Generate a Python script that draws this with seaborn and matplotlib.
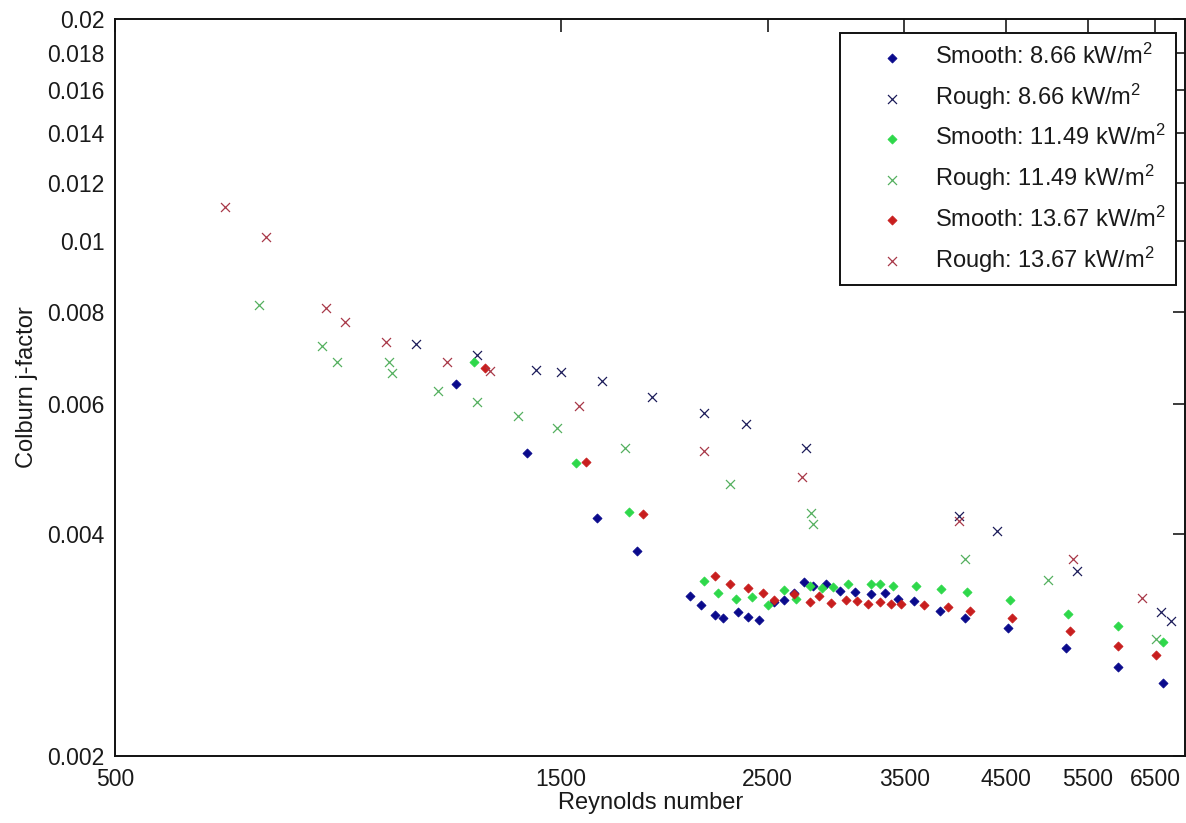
import matplotlib
matplotlib.use("Agg")
import matplotlib.pyplot as plt
import seaborn as sns
import pandas as pd
from matplotlib.ticker import FixedLocator, FixedFormatter, NullLocator

# Reynolds number / Colburn j-factor measurements for each surface and heat flux
smooth_866_re = [1158, 1379, 1639, 1809, 2066, 2121, 2197, 2237, 2321, 2383, 2449, 2541, 2604,
                 2669, 2731, 2792, 2886, 2990, 3102, 3224, 3340, 3448, 3587, 3820, 4067, 4521,
                 5220, 5932, 6628]
smooth_866_j = [0.00640, 0.00516, 0.00421, 0.00380, 0.00330, 0.00321, 0.00311, 0.00308, 0.00314,
                0.00309, 0.00306, 0.00324, 0.00326, 0.00333, 0.00344, 0.00340, 0.00342, 0.00335,
                0.00334, 0.00332, 0.00333, 0.00327, 0.00325, 0.00315, 0.00308, 0.00298, 0.00280,
                0.00264, 0.00251]

rough_866_re = [1051, 1221, 1410, 1500, 1661, 1881, 2138, 2372, 2749, 4007, 4400, 5359, 6590, 6755]
rough_866_j = [0.00725, 0.00700, 0.00668, 0.00664, 0.00646, 0.00614, 0.00584, 0.00564, 0.00524,
               0.00423, 0.00404, 0.00357, 0.00314, 0.00305]

smooth_1149_re = [1211, 1559, 1776, 2138, 2209, 2312, 2404, 2499, 2604, 2679, 2773, 2856, 2938,
                  3046, 3224, 3297, 3400, 3605, 3834, 4085, 4544, 5242, 5932, 6628]
smooth_1149_j = [0.00684, 0.00499, 0.00428, 0.00346, 0.00333, 0.00327, 0.00329, 0.00321, 0.00336,
                 0.00327, 0.00340, 0.00338, 0.00339, 0.00342, 0.00342, 0.00342, 0.00340, 0.00340,
                 0.00337, 0.00334, 0.00326, 0.00312, 0.00300, 0.00286]

rough_1149_re = [713, 833, 864, 982, 989, 1108, 1221, 1352, 1485, 1760, 2280, 2783, 2793, 4067,
                 4986, 6505]
rough_1149_j = [0.00819, 0.00720, 0.00685, 0.00685, 0.00662, 0.00626, 0.00605, 0.00578, 0.00557,
                0.00524, 0.00468, 0.00427, 0.00413, 0.00370, 0.00347, 0.00288]

smooth_1367_re = [1244, 1595, 1840, 2196, 2278, 2383, 2469, 2541, 2669, 2772, 2837, 2924, 3032,
                  3113, 3204, 3299, 3384, 3468, 3671, 3900, 4118, 4563, 5264, 5932, 6514]
smooth_1367_j = [0.00672, 0.00501, 0.00426, 0.00351, 0.00342, 0.00338, 0.00333, 0.00326, 0.00332,
                 0.00324, 0.00330, 0.00323, 0.00326, 0.00325, 0.00322, 0.00324, 0.00322, 0.00322,
                 0.00321, 0.00319, 0.00315, 0.00308, 0.00296, 0.00282, 0.00274]

rough_1367_re = [656, 726, 841, 882, 975, 1133, 1259, 1568, 2138, 2722, 4007, 5307, 6290]
rough_1367_j = [0.01112, 0.01011, 0.00811, 0.00775, 0.00728, 0.00684, 0.00665, 0.00597, 0.00519,
                0.00478, 0.00417, 0.00370, 0.00328]

series_labels = [r"Smooth: 8.66 kW/m$^2$", r"Rough: 8.66 kW/m$^2$",
                 r"Smooth: 11.49 kW/m$^2$", r"Rough: 11.49 kW/m$^2$",
                 r"Smooth: 13.67 kW/m$^2$", r"Rough: 13.67 kW/m$^2$"]

x_ticks = [500, 1500, 2500, 3500, 4500, 5500, 6500]
x_tick_labels = ["500", "1500", "2500", "3500", "4500", "5500", "6500"]
y_ticks = [0.002, 0.004, 0.006, 0.008, 0.01, 0.012, 0.014, 0.016, 0.018, 0.02]
y_tick_labels = ["0.002", "0.004", "0.006", "0.008", "0.01", "0.012", "0.014", "0.016",
                 "0.018", "0.02"]

sns.set_theme(style="white")
plt.rcParams["font.family"] = ["Liberation Sans", "DejaVu Sans"]
plt.rcParams["mathtext.default"] = "regular"
plt.rcParams["mathtext.fontset"] = "custom"
plt.rcParams["mathtext.rm"] = "Liberation Sans"

fig = plt.figure(figsize=(11.86, 8.23), dpi=100)
ax = fig.add_axes([0.097, 0.0814, 0.9025, 0.8955])

series = [
    (smooth_866_re, smooth_866_j, "D", "#0a0a8c"),
    (rough_866_re, rough_866_j, "x", "#1c1c5a"),
    (smooth_1149_re, smooth_1149_j, "D", "#2ed84a"),
    (rough_1149_re, rough_1149_j, "x", "#55b060"),
    (smooth_1367_re, smooth_1367_j, "D", "#c81e1e"),
    (rough_1367_re, rough_1367_j, "x", "#a83848"),
]

for (re, j, marker, color), label in zip(series, series_labels):
    df = pd.DataFrame({"Re": re, "j": j})
    if marker == "D":
        sns.scatterplot(data=df, x="Re", y="j", marker="D", s=21, color=color,
                        edgecolor=color, linewidth=0.6, ax=ax, label=label, zorder=3)
    else:
        sns.scatterplot(data=df, x="Re", y="j", marker="x", s=42, color=color,
                        linewidth=0.9, ax=ax, label=label, zorder=3)

ax.set_xscale("log")
ax.set_yscale("log")
ax.set_xlim(500, 7000)
ax.set_ylim(0.002, 0.02)

ax.xaxis.set_major_locator(FixedLocator(x_ticks))
ax.xaxis.set_major_formatter(FixedFormatter(x_tick_labels))
ax.xaxis.set_minor_locator(NullLocator())
ax.yaxis.set_major_locator(FixedLocator(y_ticks))
ax.yaxis.set_major_formatter(FixedFormatter(y_tick_labels))
ax.yaxis.set_minor_locator(NullLocator())

ax.tick_params(axis="both", which="major", direction="in", length=9, width=1.2,
               top=True, right=True, labelsize=16.5, colors="#1a1a1a")
ax.tick_params(axis="x", pad=8.5)
ax.tick_params(axis="y", pad=7.5)
for sp in ax.spines.values():
    sp.set_visible(True)
    sp.set_color("#111111")
    sp.set_linewidth(1.4)

ax.set_xlabel("Reynolds number", fontsize=17, color="#1a1a1a", labelpad=1)
ax.set_ylabel("Colburn j-factor", fontsize=17, color="#1a1a1a", labelpad=7)

leg = ax.legend(loc="upper right", bbox_to_anchor=(0.9916, 0.981), borderaxespad=0,
                fontsize=17, frameon=True, fancybox=False, framealpha=1,
                edgecolor="#111111", labelspacing=0.55, handletextpad=0.05,
                borderpad=0.45, handlelength=3.5, markerscale=1.0)
leg.get_frame().set_linewidth(1.4)
for t in leg.get_texts():
    t.set_color("#1a1a1a")

fig.savefig("out.png", dpi=100)
